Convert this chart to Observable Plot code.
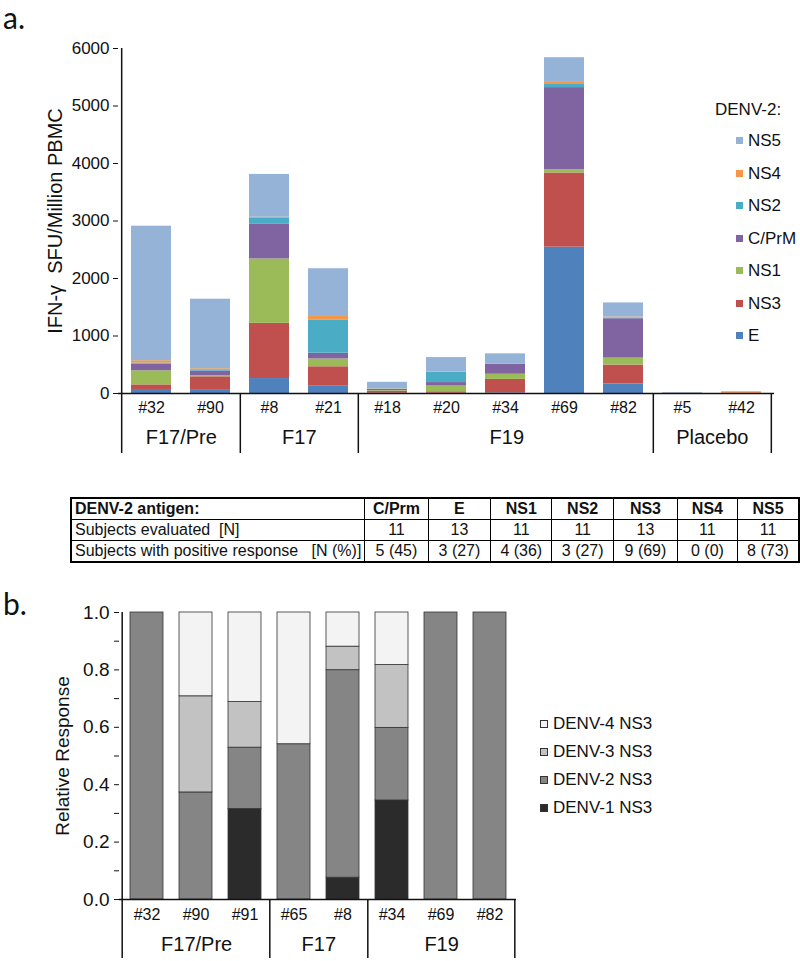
<!DOCTYPE html>
<html><head><meta charset="utf-8">
<script src="https://cdn.jsdelivr.net/npm/d3@7"></script>
<script src="https://cdn.jsdelivr.net/npm/@observablehq/plot@0.6"></script>
<style>
body{margin:0;background:#fff;font-family:"Liberation Sans",Arial,sans-serif;color:#111;}
#wrap{position:relative;width:800px;height:961px;overflow:hidden;background:#fff;}
.panel{position:absolute;font-family:Lato,"Open Sans",sans-serif;font-size:30px;line-height:1;color:#111;}
.leg{position:absolute;font-size:17px;line-height:1;white-space:nowrap;}
.sw{display:inline-block;width:7px;height:7px;margin-right:5px;vertical-align:middle;position:relative;top:-1px;}
#tbl{position:absolute;left:70px;top:497px;border-collapse:collapse;border:2px solid #000;
 font-family:"Liberation Sans Narrow","Arial Narrow","Liberation Sans",sans-serif;font-stretch:condensed;font-size:16px;}
#tbl td{border:1px solid #000;height:20px;padding:0 3px;text-align:center;white-space:pre;line-height:18px;}
#tbl td:first-child{text-align:left;}
#tbl tr:first-child td{font-weight:bold;}
</style></head><body><div id="wrap"></div>
<script>
// ---------- Panel a data ----------
const subjectsA = ["#32","#90","#8","#21","#18","#20","#34","#69","#82","#5","#42"];
const groupLabelsA = ["F17/Pre","F17","F19","Placebo"];
const groupMembersA = [["#32","#90"],["#8","#21"],["#18","#20","#34","#69","#82"],["#5","#42"]];
const antigens = ["E","NS3","NS1","C/PrM","NS2","NS4","NS5"];
const antigenColors = ["#4f81bd","#c0504d","#9bbb59","#8064a2","#4bacc6","#f79646","#95b3d7"];
const valE    = [70, 55, 260, 135, 5, 5, 10, 2545, 165, 3, 0];
const valNS3  = [80, 235, 960, 330, 35, 25, 235, 1290, 330, 3, 3];
const valNS1  = [245, 20, 1120, 135, 10, 100, 90, 55, 120, 0, 0];
const valCPrM = [115, 80, 610, 100, 20, 60, 175, 1430, 685, 0, 0];
const valNS2  = [20, 10, 95, 580, 5, 175, 5, 55, 10, 0, 0];
const valNS4  = [40, 30, 20, 75, 5, 5, 5, 35, 20, 0, 25];
const valNS5  = [2340, 1210, 745, 815, 115, 255, 170, 430, 245, 8, 5];
const yTicksA = [0,1000,2000,3000,4000,5000,6000];

// ---------- Table data ----------
const tableHeader = "DENV-2 antigen:";
const tableAntigens = ["C/Prm","E","NS1","NS2","NS3","NS4","NS5"];
const rowEvalLabel = "Subjects evaluated  [N]";
const evaluatedN = [11,13,11,11,13,11,11];
const rowPosLabel = "Subjects with positive response   [N (%)]";
const positiveN = [5,3,4,3,9,0,8];
const positivePct = [45,27,36,27,69,0,73];

// ---------- Panel b data ----------
const subjectsB = ["#32","#90","#91","#65","#8","#34","#69","#82"];
const groupLabelsB = ["F17/Pre","F17","F19"];
const groupMembersB = [["#32","#90","#91"],["#65","#8"],["#34","#69","#82"]];
const serotypes = ["DENV-1 NS3","DENV-2 NS3","DENV-3 NS3","DENV-4 NS3"];
const serotypeColors = ["#2b2b2b","#858585","#c2c2c2","#f3f3f3"];
const d1 = [0, 0, 0.315, 0, 0.076, 0.345, 0, 0];
const d2 = [1, 0.373, 0.214, 0.541, 0.723, 0.253, 1, 1];
const d3v = [0, 0.335, 0.159, 0, 0.082, 0.219, 0, 0];
const d4 = [0, 0.292, 0.312, 0.459, 0.119, 0.183, 0, 0];
const yTicksB = [0,0.2,0.4,0.6,0.8,1.0];
const yMinorB = [0.1,0.3,0.5,0.7,0.9];

const wrap = document.getElementById("wrap");
const font = "'Liberation Sans', Arial, sans-serif";

// ---------- Panel a ----------
const seriesA = [valE, valNS3, valNS1, valCPrM, valNS2, valNS4, valNS5];
const dataA = [];
subjectsA.forEach((s, i) => antigens.forEach((a, j) => dataA.push({subject: s, antigen: a, value: seriesA[j][i]})));

const A = {w: 800, h: 460, ml: 118, mr: 26, mt: 48, mb: 67};
const stepA = (A.w - A.ml - A.mr) / subjectsA.length;
const groupsA = groupLabelsA.map((l, i) => ({label: l, members: groupMembersA[i]}));

const plotA = Plot.plot({
  width: A.w, height: A.h, marginLeft: A.ml, marginRight: A.mr, marginTop: A.mt, marginBottom: A.mb,
  style: {fontFamily: font, fontSize: "16px", color: "#111", background: "transparent"},
  x: {domain: subjectsA, paddingInner: 0.33, paddingOuter: 0.165, axis: null},
  y: {domain: [0, 6000], axis: null},
  color: {domain: antigens, range: antigenColors},
  marks: [
    Plot.barY(dataA, Plot.stackY({x: "subject", y: "value", fill: "antigen", order: antigens})),
    Plot.axisY({ticks: yTicksA, tickSize: 5, tickPadding: 4, fontSize: 17, tickFormat: d => String(d), label: null}),
    Plot.ruleY([0], {stroke: "#111", strokeWidth: 1.5}),
    Plot.ruleX([subjectsA[0]], {dx: -stepA/2, stroke: "#111", strokeWidth: 1.5, insetBottom: -60}),
    Plot.ruleX(groupsA.map(g => g.members[g.members.length-1]), {dx: stepA/2, stroke: "#111", strokeWidth: 1.5, insetTop: A.h - A.mt - A.mb, insetBottom: -60}),
    Plot.text(subjectsA, {x: d => d, text: d => d, frameAnchor: "bottom", dy: 19, fontSize: 16, fill: "#111"}),
    ...groupsA.map(g => Plot.text([g], {x: d => d.members[0], text: d => d.label, frameAnchor: "bottom", dx: (g.members.length - 1) * stepA / 2, dy: 50, fontSize: 20, fill: "#111"})),
    Plot.text(["IFN-\u03b3  SFU/Million PBMC"], {text: d => d, frameAnchor: "left", textAnchor: "middle", dx: -63, rotate: -90, fontSize: 20, fill: "#111"})
  ]
});
plotA.style.position = "absolute"; plotA.style.left = "0px"; plotA.style.top = "0px";
wrap.appendChild(plotA);

function addDiv(cls, html, left, top) {
  const d = document.createElement("div");
  d.className = cls; d.innerHTML = html; d.style.left = left + "px"; d.style.top = top + "px";
  wrap.appendChild(d); return d;
}
addDiv("panel", "a.", 3, 2);
addDiv("leg", "DENV-2:", 715, 101);
antigens.slice().reverse().forEach((a, i) => {
  const c = antigenColors[antigens.indexOf(a)];
  addDiv("leg", `<span class="sw" style="background:${c}"></span>${a}`, 736, 132 + i * 32.5);
});

// ---------- Table ----------
const tbl = document.createElement("table"); tbl.id = "tbl";
const colW = [280, 64, 64, 62, 63, 65, 62, 62];
const rows = [
  [tableHeader, ...tableAntigens],
  [rowEvalLabel, ...evaluatedN.map(String)],
  [rowPosLabel, ...positiveN.map((n, i) => `${n} (${positivePct[i]})`)]
];
rows.forEach(r => {
  const tr = document.createElement("tr");
  r.forEach((c, i) => { const td = document.createElement("td"); td.textContent = c; td.style.width = (colW[i] - 7) + "px"; tr.appendChild(td); });
  tbl.appendChild(tr);
});
wrap.appendChild(tbl);

// ---------- Panel b ----------
const seriesB = [d1, d2, d3v, d4];
const dataB = [];
subjectsB.forEach((s, i) => serotypes.forEach((t, j) => { if (seriesB[j][i] > 0) dataB.push({subject: s, serotype: t, value: seriesB[j][i]}); }));
const B = {w: 800, h: 380, ml: 119, mr: 284, mt: 32, mb: 61};
const stepB = (B.w - B.ml - B.mr) / subjectsB.length;
const groupsB = groupLabelsB.map((l, i) => ({label: l, members: groupMembersB[i]}));

const plotB = Plot.plot({
  width: B.w, height: B.h, marginLeft: B.ml, marginRight: B.mr, marginTop: B.mt, marginBottom: B.mb,
  style: {fontFamily: font, fontSize: "16px", color: "#111", background: "transparent"},
  x: {domain: subjectsB, paddingInner: 0.335, paddingOuter: 0.1675, axis: null},
  y: {domain: [0, 1], axis: null},
  color: {domain: serotypes, range: serotypeColors},
  marks: [
    Plot.barY(dataB, Plot.stackY({x: "subject", y: "value", fill: "serotype", order: serotypes, stroke: "#333", strokeWidth: 0.8})),
    Plot.axisY({ticks: yTicksB, tickSize: 5, tickPadding: 5, fontSize: 19, tickFormat: d => d.toFixed(1), label: null}),
    Plot.axisY({ticks: yMinorB, tickSize: 5, tickFormat: () => "", label: null}),
    Plot.ruleY([0], {stroke: "#111", strokeWidth: 1.5}),
    Plot.ruleX([subjectsB[0]], {dx: -stepB/2, stroke: "#111", strokeWidth: 1.5, insetBottom: -59}),
    Plot.ruleX(groupsB.map(g => g.members[g.members.length-1]), {dx: stepB/2, stroke: "#111", strokeWidth: 1.5, insetTop: B.h - B.mt - B.mb, insetBottom: -59}),
    Plot.text(subjectsB, {x: d => d, text: d => d, frameAnchor: "bottom", dy: 20, fontSize: 16, fill: "#111"}),
    ...groupsB.map(g => Plot.text([g], {x: d => d.members[0], text: d => d.label, frameAnchor: "bottom", dx: (g.members.length - 1) * stepB / 2, dy: 51, fontSize: 20, fill: "#111"})),
    Plot.text(["Relative Response"], {text: d => d, frameAnchor: "left", textAnchor: "middle", dx: -57, rotate: -90, fontSize: 19, fill: "#111"})
  ]
});
plotB.style.position = "absolute"; plotB.style.left = "0px"; plotB.style.top = "580px";
wrap.appendChild(plotB);

addDiv("panel", "b.", 3, 588);
serotypes.slice().reverse().forEach((t, i) => {
  const c = serotypeColors[serotypes.indexOf(t)];
  addDiv("leg", `<span class="sw" style="background:${c};border:1px solid #333;width:6px;height:6px"></span>${t}`, 540, 715 + i * 28);
});
</script></body></html>
